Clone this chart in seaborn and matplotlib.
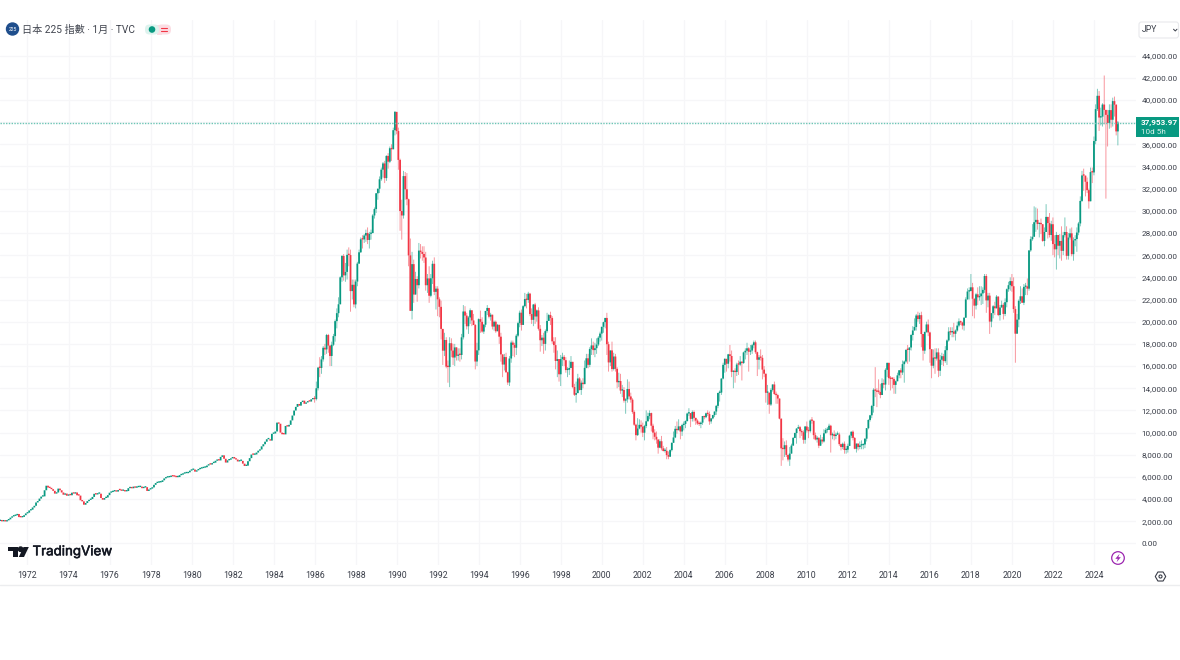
"""Nikkei 225 monthly candles, TradingView look."""
import matplotlib
matplotlib.use("Agg")
import matplotlib.patheffects as pe
import matplotlib.pyplot as plt
import numpy as np
import pandas as pd
import seaborn as sns
from matplotlib.patches import Circle, FancyBboxPatch, Polygon, Rectangle

# monthly closes, Sep 1970 to Mar 2025
CLOSES = [
    2030, 2000, 2010, 1990,
    2090, 2180, 2330, 2440, 2490, 2550, 2660, 2380, 2360, 2400, 2550, 2710,
    2780, 2980, 3050, 3250, 3400, 3700, 3830, 4050, 4230, 4250, 4800, 5210,
    5050, 5000, 4900, 4750, 4500, 4600, 4950, 4800, 4600, 4400, 4500, 4310,
    4400, 4350, 4580, 4500, 4600, 4350, 4320, 3900, 3800, 3500, 3650, 3820,
    3930, 4010, 4200, 4480, 4420, 4490, 4490, 4100, 3950, 4100, 4150, 4360,
    4580, 4640, 4700, 4730, 4680, 4820, 4810, 4750, 4780, 4700, 4730, 4990,
    5050, 4980, 5130, 5030, 5080, 5090, 5130, 4990, 5050, 5080, 4740, 4870,
    4950, 5060, 5290, 5450, 5490, 5510, 5550, 5700, 5870, 5950, 5970, 6000,
    6110, 6050, 6030, 5980, 5990, 6160, 6210, 6300, 6340, 6340, 6420, 6570,
    6640, 6670, 6480, 6600, 6700, 6760, 6800, 6840, 6880, 7030, 7130, 7120,
    7250, 7290, 7460, 7570, 7490, 7810, 7950, 7640, 7300, 7500, 7560, 7680,
    7800, 7660, 7570, 7400, 7450, 7450, 7200, 6990, 7020, 7420, 7700, 8020,
    8000, 8030, 8200, 8370, 8480, 8760, 8950, 9180, 9400, 9400, 9280, 9890,
    9920, 10100, 10900, 10800, 10000, 9850, 9840, 10600, 10550, 10700, 11100, 11540,
    11990, 12320, 12580, 12430, 12760, 12880, 12600, 12720, 12830, 12800, 13000, 13110,
    13020, 14000, 15860, 15830, 16600, 17650, 17500, 18800, 17850, 16910, 17920, 18700,
    20050, 20770, 21570, 24000, 25930, 24180, 24490, 26030, 26010, 22760, 23330, 21560,
    23620, 25240, 26260, 27430, 27420, 27770, 28000, 27370, 27920, 27990, 29580, 30160,
    31580, 31990, 32840, 33710, 34270, 32950, 34950, 34430, 35640, 35550, 37270, 38920,
    37190, 34590, 29980, 29580, 33130, 31940, 31040, 25980, 20980, 25190, 22450, 23850,
    23290, 26410, 26290, 26110, 25790, 23290, 23900, 22340, 23920, 25220, 22690, 22980,
    22020, 21340, 19350, 17390, 18350, 15950, 15910, 18060, 17400, 16770, 17680, 16920,
    17020, 17000, 18590, 20920, 20550, 19590, 20380, 21030, 20110, 19700, 16410, 17420,
    20230, 19990, 19110, 19730, 20970, 21240, 20450, 20630, 19560, 19990, 19140, 19720,
    18650, 17050, 16140, 16810, 15440, 14520, 16680, 18120, 17910, 17650, 18740, 19870,
    20810, 19710, 21400, 22040, 21960, 22530, 20690, 20170, 21550, 20470, 21020, 19360,
    18330, 18560, 18000, 19150, 20070, 20600, 20330, 18230, 17890, 16460, 16630, 15260,
    16630, 16830, 16530, 15640, 15670, 15830, 16380, 14110, 13410, 13560, 14880, 13840,
    14500, 14370, 15840, 16700, 16110, 17530, 17860, 17440, 17610, 17940, 18560, 18930,
    19540, 19960, 20340, 17970, 16330, 17410, 15730, 16860, 15750, 14540, 14650, 13790,
    13840, 12880, 13000, 13930, 13260, 12970, 11860, 10710, 9770, 10370, 10700, 10540,
    9990, 10590, 11020, 11490, 11760, 10620, 10000, 9620, 9380, 8640, 9220, 8580,
    8340, 8360, 7970, 7830, 8420, 9080, 9560, 10340, 10220, 10560, 10100, 10680,
    10780, 11040, 11720, 11760, 11240, 11860, 11330, 11080, 10820, 10770, 10900, 11490,
    11390, 11740, 11670, 11010, 11280, 11580, 11900, 12410, 13570, 13610, 14870, 16110,
    16650, 16210, 17060, 16910, 15470, 15510, 15460, 16140, 16130, 16400, 16270, 17230,
    17380, 17600, 17290, 17400, 17880, 18140, 17250, 16570, 16790, 16740, 15680, 15310,
    13590, 13600, 12530, 13850, 14340, 13480, 13380, 13070, 11260, 8580, 8510, 8860,
    7990, 7570, 8110, 8830, 9520, 9960, 10360, 10490, 10130, 10030, 9350, 10550,
    10200, 10130, 11090, 11060, 9770, 9380, 9540, 8820, 9370, 9200, 9940, 10230,
    10240, 10620, 9760, 9850, 9690, 9820, 9830, 8960, 8700, 8990, 8430, 8460,
    8800, 9720, 10080, 9520, 8540, 9010, 8700, 8840, 8870, 8930, 9450, 10400,
    11140, 11560, 12400, 13860, 13770, 13680, 13670, 13390, 14460, 14330, 15660, 16290,
    14910, 14840, 14830, 14300, 14630, 15160, 15620, 15420, 16170, 16410, 17460, 17450,
    17670, 18800, 19210, 19520, 20560, 20240, 20590, 18890, 17390, 19080, 19750, 19030,
    17520, 16030, 16760, 16670, 17230, 15580, 16570, 16890, 16450, 17430, 18310, 19110,
    19040, 19120, 18910, 19200, 19650, 20030, 19930, 19650, 20360, 22010, 22720, 22760,
    23100, 22070, 21450, 22470, 22200, 22300, 22550, 22870, 24120, 21920, 22350, 20010,
    20770, 21390, 21210, 22260, 20600, 21280, 21520, 20700, 21760, 22930, 23290, 23660,
    23200, 21140, 18920, 20190, 21880, 22290, 21710, 23140, 23190, 22980, 26430, 27440,
    27660, 28970, 29180, 28810, 28860, 28790, 27280, 28090, 29450, 28890, 27820, 28790,
    27000, 26530, 27820, 26850, 27280, 26390, 27800, 28090, 25940, 27590, 27970, 26090,
    27330, 27450, 28040, 28860, 30890, 33190, 33170, 32620, 31860, 30860, 33490, 33460,
    36290, 39170, 40370, 38410, 38490, 39580, 39100, 38650, 37920, 39080, 38210, 39890,
    39570, 37160, 37954,
]

# wicks in hundreds of points, Jan 1986 on; earlier ones are too small to see
HIGHS_H = [
    133, 146, 159, 168, 169, 178, 180, 189, 189, 172, 182, 189,
    202, 212, 222, 241, 260, 261, 253, 265, 267, 265, 238, 238,
    238, 254, 265, 276, 278, 279, 283, 285, 281, 283, 297, 303,
    316, 320, 331, 339, 344, 345, 350, 352, 358, 360, 375, 390,
    389, 375, 347, 310, 336, 335, 334, 311, 275, 263, 256, 245,
    241, 271, 270, 268, 268, 263, 243, 250, 243, 255, 258, 232,
    232, 222, 219, 193, 190, 186, 165, 186, 185, 180, 180, 177,
    176, 176, 189, 215, 214, 208, 205, 212, 210, 207, 198, 181,
    203, 210, 204, 198, 209, 215, 209, 208, 206, 201, 201, 198,
    197, 190, 170, 171, 172, 155, 169, 183, 183, 181, 189, 200,
    210, 211, 215, 226, 225, 227, 226, 212, 216, 217, 211, 213,
    197, 188, 190, 193, 208, 207, 209, 205, 186, 186, 174, 165,
    170, 172, 170, 168, 159, 165, 169, 163, 144, 146, 153, 150,
    147, 149, 165, 171, 171, 177, 185, 182, 181, 185, 187, 191,
    195, 200, 203, 208, 182, 174, 182, 172, 171, 159, 154, 153,
    143, 141, 131, 148, 146, 136, 131, 120, 108, 113, 112, 111,
    109, 107, 120, 118, 120, 118, 108, 103, 101, 93, 94, 97,
    88, 86, 87, 83, 85, 91, 101, 106, 110, 112, 106, 108,
    110, 111, 118, 122, 116, 120, 120, 113, 112, 110, 110, 115,
    115, 118, 120, 119, 113, 116, 119, 125, 136, 138, 149, 163,
    167, 166, 171, 179, 174, 156, 158, 163, 165, 169, 164, 173,
    176, 181, 177, 179, 180, 183, 183, 173, 170, 175, 170, 160,
    153, 143, 134, 140, 143, 146, 137, 135, 130, 110, 95, 92,
    93, 80, 87, 90, 96, 100, 104, 107, 106, 103, 102, 106,
    110, 105, 112, 114, 111, 100, 97, 95, 98, 96, 103, 104,
    105, 108, 107, 100, 102, 100, 101, 100, 90, 91, 92, 88,
    90, 98, 101, 102, 96, 90, 90, 92, 93, 90, 95, 104,
    112, 116, 125, 140, 159, 140, 148, 144, 149, 148, 158, 163,
    161, 151, 150, 150, 147, 154, 156, 158, 165, 165, 175, 179,
    177, 189, 196, 203, 207, 209, 208, 209, 188, 191, 200, 202,
    191, 170, 175, 176, 176, 176, 170, 172, 171, 178, 184, 195,
    195, 195, 199, 193, 200, 203, 201, 200, 204, 222, 230, 231,
    243, 235, 221, 226, 231, 232, 232, 231, 243, 243, 226, 226,
    207, 215, 218, 224, 223, 215, 219, 217, 221, 230, 236, 240,
    243, 240, 214, 207, 220, 232, 230, 234, 235, 239, 264, 277,
    288, 304, 303, 302, 289, 293, 288, 285, 306, 294, 298, 291,
    294, 278, 281, 276, 279, 286, 281, 294, 286, 280, 284, 285,
    276, 278, 285, 290, 313, 336, 338, 331, 330, 320, 339, 339,
    367, 396, 410, 408, 393, 397, 422, 389, 391, 396, 396, 402,
    403, 396, 381,
]
LOWS_H = [
    127, 129, 138, 150, 153, 164, 170, 171, 172, 160, 160, 178,
    182, 194, 204, 216, 236, 237, 236, 238, 250, 209, 220, 213,
    212, 232, 252, 262, 266, 271, 272, 270, 266, 274, 280, 293,
    298, 310, 316, 327, 330, 325, 327, 338, 343, 345, 357, 368,
    369, 337, 282, 274, 293, 310, 305, 250, 222, 202, 217, 225,
    218, 230, 257, 255, 253, 228, 226, 217, 222, 234, 224, 211,
    205, 204, 184, 161, 169, 158, 145, 141, 168, 161, 160, 165,
    165, 164, 166, 184, 198, 193, 189, 198, 196, 197, 157, 160,
    170, 190, 190, 189, 195, 206, 203, 201, 193, 192, 190, 192,
    180, 164, 150, 156, 154, 143, 142, 163, 169, 168, 170, 186,
    195, 192, 198, 213, 212, 217, 205, 198, 196, 198, 200, 192,
    173, 178, 171, 174, 190, 203, 197, 180, 172, 157, 150, 146,
    142, 160, 160, 154, 150, 152, 162, 140, 133, 127, 136, 138,
    134, 140, 144, 158, 158, 159, 170, 170, 168, 171, 178, 182,
    183, 190, 194, 170, 155, 160, 155, 156, 155, 140, 141, 135,
    132, 127, 117, 127, 130, 127, 117, 106, 93, 97, 103, 100,
    96, 93, 104, 110, 112, 101, 94, 93, 90, 81, 86, 84,
    83, 82, 76, 76, 78, 83, 92, 95, 99, 102, 94, 97,
    102, 104, 110, 115, 105, 110, 110, 107, 107, 106, 104, 107,
    112, 113, 115, 107, 108, 112, 114, 116, 122, 128, 134, 148,
    154, 155, 158, 164, 150, 140, 145, 151, 152, 160, 147, 162,
    166, 170, 155, 170, 171, 176, 171, 151, 157, 165, 148, 150,
    127, 125, 117, 124, 137, 134, 126, 126, 112, 70, 75, 78,
    78, 74, 70, 81, 88, 95, 90, 104, 95, 97, 90, 90,
    100, 95, 100, 108, 94, 93, 91, 86, 88, 90, 91, 100,
    100, 103, 82, 94, 93, 94, 98, 88, 84, 85, 81, 81,
    82, 88, 95, 93, 85, 82, 84, 85, 85, 85, 86, 92,
    103, 110, 113, 118, 132, 123, 135, 131, 136, 140, 138, 150,
    143, 138, 140, 135, 135, 147, 149, 149, 152, 145, 163, 162,
    164, 174, 183, 192, 192, 200, 198, 177, 165, 171, 190, 187,
    163, 149, 158, 153, 165, 150, 151, 161, 160, 163, 161, 182,
    188, 186, 186, 183, 191, 195, 197, 193, 192, 204, 220, 220,
    231, 205, 203, 211, 215, 219, 215, 216, 226, 208, 213, 189,
    195, 203, 206, 212, 205, 201, 213, 202, 205, 213, 227, 228,
    227, 208, 163, 192, 195, 216, 218, 215, 224, 224, 228, 263,
    273, 282, 281, 283, 276, 279, 272, 268, 281, 275, 276, 273,
    260, 258, 247, 260, 257, 255, 260, 276, 256, 256, 274, 259,
    255, 268, 263, 278, 286, 308, 318, 313, 316, 302, 310, 325,
    332, 360, 390, 372, 377, 376, 378, 311, 358, 374, 375, 376,
    385, 368, 359,
]
LAST_PRICE = 37953.97
Y_TICKS = list(range(0, 46000, 2000))
X_YEARS = list(range(1972, 2026, 2))

UP = "#089981"
DOWN = "#F23645"
GRID = "#F6F6F8"
TXT = "#3A3E49"
W, H = 1180, 660

sns.set_theme(style="white")
plt.rcParams["font.family"] = ["Roboto", "DejaVu Sans"]

closes = np.array(CLOSES, dtype=float)
opens = np.r_[closes[0], closes[:-1]]
df = pd.DataFrame({"idx": np.arange(len(closes)), "open": opens, "close": closes})
df["bottom"] = df[["open", "close"]].min(axis=1)
df["body"] = (df["close"] - df["open"]).abs().clip(lower=120)
df["up"] = df["close"] >= df["open"]

first_wick = (1986 - 1970) * 12 - 8
wicks = df.iloc[first_wick:].copy()
wicks["high"] = np.maximum(np.array(HIGHS_H) * 100.0, wicks[["open", "close"]].max(axis=1))
wicks["low"] = np.minimum(np.array(LOWS_H) * 100.0, wicks["bottom"])
wicks["span"] = wicks["high"] - wicks["low"]

fig = plt.figure(figsize=(W / 100, H / 100), dpi=100, facecolor="white")
ax = fig.add_axes([0, 1 - 565 / H, 1136 / W, 545 / H])
ax.set_axisbelow(True)

for is_up, col in [(True, UP), (False, DOWN)]:
    part = wicks[wicks["up"] == is_up]
    sns.barplot(data=part, x="idx", y="span", bottom=part["low"].values, native_scale=True,
                color=col, saturation=1, width=0.5, errorbar=None, linewidth=0, alpha=0.6,
                snap=False, zorder=2, ax=ax)
for is_up, col in [(True, UP), (False, DOWN)]:
    part = df[df["up"] == is_up]
    sns.barplot(data=part, x="idx", y="body", bottom=part["bottom"].values, native_scale=True,
                color=col, saturation=1, width=1.05, errorbar=None, linewidth=0,
                snap=False, zorder=3, ax=ax)

ax.axhline(LAST_PRICE, color="#6CC5B5", lw=1, ls=(0, (1, 1)), zorder=4)

ax.set_xlim(-0.09, 664.6)
ax.set_ylim(-1939, 47205)
ax.set_xlabel("")
ax.set_ylabel("")
x_pos = [(y - 1970) * 12 - 8 for y in X_YEARS]
ax.set_xticks(x_pos)
ax.set_xticklabels([str(y) for y in X_YEARS], fontsize=6.3, color=TXT)
ax.set_yticks(Y_TICKS)
ax.set_yticklabels([f"{v:,.2f}" for v in Y_TICKS], fontsize=5.9, color=TXT)
ax.yaxis.tick_right()
ax.tick_params(axis="y", length=0, pad=4)
ax.tick_params(axis="x", length=0, pad=4.5)
ax.grid(True, color=GRID, lw=0.9)
sns.despine(ax=ax, left=True, bottom=True, right=True, top=True)

# overlay in pixel coordinates for the chrome
ov = fig.add_axes([0, 0, 1, 1], facecolor="none")
ov.set_axis_off()
ov.set_xlim(0, W)
ov.set_ylim(H, 0)

ov.plot([0, W], [585, 585], color="#ECEDEF", lw=1)

# header
ov.add_patch(Circle((12.5, 29), 6, color="#1F4E8C", zorder=5))
ov.text(12.5, 29.3, "225", fontsize=3.6, color="white", ha="center", va="center", zorder=6)
ov.text(21.5, 33.2, "日本 225 指數 · 1月 · TVC", fontsize=7.3, color="#41454F",
        family=["Roboto", "Noto Sans CJK TC"], ha="left", va="baseline")
ov.add_patch(FancyBboxPatch((157, 24.5), 14, 10, boxstyle="round,pad=0,rounding_size=4.5",
                            fc="#FBDDE3", ec="none", lw=0))
ov.add_patch(Rectangle((157, 24.5), 5, 10, fc="#FBDDE3", ec="none"))
ov.add_patch(FancyBboxPatch((145, 24.5), 14, 10, boxstyle="round,pad=0,rounding_size=4.5",
                            fc="#DDF3EE", ec="none", lw=0))
ov.add_patch(Circle((152, 29.5), 2.6, color=UP, zorder=5))
ov.plot([160.5, 166.5], [27.8, 27.8], color=DOWN, lw=0.8)
ov.plot([160.5, 166.5], [30.8, 30.8], color=DOWN, lw=0.8)

# currency button
ov.add_patch(FancyBboxPatch((1139, 22), 39.5, 16, boxstyle="round,pad=0,rounding_size=2.5",
                            fc="white", ec="#E8E9EC", lw=0.8))
ov.text(1141.5, 29.8, "JPY", fontsize=6.2, color=TXT, ha="left", va="center")
ov.plot([1173.5, 1175.3, 1177], [29.2, 31, 29.2], color=TXT, lw=0.7)

# last price tag
ov.add_patch(Rectangle((1136, 117), 43, 20, fc=UP, ec="none", zorder=5))
ov.text(1141, 122.5, "37,953.97", fontsize=5.9, color="white", weight="bold",
        ha="left", va="center", zorder=6)
ov.text(1141, 131.8, "10d 5h", fontsize=5.9, color="#D8F1EB", ha="left", va="center", zorder=6)

# TradingView mark
dark = "#131722"
ov.add_patch(Polygon([(8, 547), (18, 547), (18, 557), (12.5, 557), (12.5, 551.3), (8, 551.3)], fc=dark, ec="none"))
ov.add_patch(Circle((20.6, 549.2), 2.2, color=dark))
ov.add_patch(Polygon([(23.5, 547), (28.8, 547), (24, 557), (18.8, 557)], fc=dark, ec="none"))
ov.text(32.5, 552.3, "TradingView", fontsize=9.6, color=dark, family=["Inter", "DejaVu Sans"],
        ha="left", va="center", path_effects=[pe.withStroke(linewidth=0.4, foreground=dark)])

# bolt badge and settings glyph
ov.add_patch(Circle((1118, 558), 6.3, fc="white", ec="#9C27B0", lw=0.9))
ov.add_patch(Polygon([(1119.6, 553.8), (1115.3, 558.8), (1117.8, 558.8), (1116.6, 562.2),
                      (1120.8, 557.2), (1118.3, 557.2)], fc="#9C27B0", ec="none"))
ov.plot([1159.5], [575.5], marker="H", ms=7.5, mfc="white", mec=TXT, mew=0.8)
ov.plot([1159.5], [575.5], marker="o", ms=2.2, mfc="white", mec=TXT, mew=0.8)

fig.savefig("out.png", dpi=100)
